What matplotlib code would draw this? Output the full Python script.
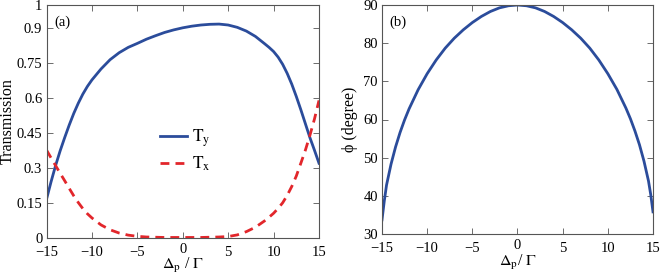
import numpy as np
import matplotlib
matplotlib.use('Agg')
import matplotlib.pyplot as plt

# detuning samples (Delta_p / Gamma) for panel (a)
det = [-15, -14.5, -14, -13.5, -13, -12.5, -12, -11.5, -11, -10.5, -10, -9, -8,
       -7, -6, -5, -4, -3, -2, -1, 0, 1, 2, 3, 4, 5, 6, 7, 8, 9, 9.5, 10, 10.5,
       11, 11.5, 12, 12.5, 13, 13.5, 14, 14.5, 15]
Ty = [0.165, 0.24, 0.31, 0.373, 0.43, 0.484, 0.534, 0.578, 0.617, 0.65, 0.678,
      0.725, 0.765, 0.795, 0.818, 0.835, 0.853, 0.868, 0.882, 0.893, 0.902,
      0.909, 0.914, 0.917, 0.918, 0.914, 0.904, 0.888, 0.865, 0.834, 0.818,
      0.80, 0.776, 0.745, 0.706, 0.66, 0.607, 0.55, 0.49, 0.43, 0.376, 0.32]
Tx = [0.377, 0.343, 0.31, 0.277, 0.245, 0.212, 0.18, 0.151, 0.125, 0.103, 0.085,
      0.055, 0.034, 0.02, 0.011, 0.006, 0.003, 0.002, 0.001, 0.001, 0.001,
      0.001, 0.001, 0.002, 0.003, 0.005, 0.012, 0.026, 0.045, 0.072, 0.088,
      0.105, 0.126, 0.15, 0.182, 0.22, 0.265, 0.32, 0.376, 0.44, 0.51, 0.59]

# panel (b)
det_b = [-15, -14.75, -14.5, -14, -13.5, -13, -12.5, -12, -11, -10, -9, -8, -7,
         -6, -5, -4, -3, -2, -1, 0, 1, 2, 3, 4, 5, 6, 7, 8, 9, 10, 11, 12,
         12.5, 13, 13.5, 14, 14.5, 14.75, 15]
phi = [33.7, 38.6, 42.8, 48.3, 52.8, 56.6, 59.9, 62.8, 67.8, 72.0, 75.6, 78.7,
       81.3, 83.5, 85.4, 87.0, 88.3, 89.25, 89.8, 90.0, 89.8, 89.25, 88.3, 87.0,
       85.4, 83.5, 81.3, 78.7, 75.6, 72.0, 67.9, 63.0, 60.2, 57.0, 53.4, 49.1,
       43.9, 40.3, 35.8]

yt_a = [0, 0.15, 0.3, 0.45, 0.6, 0.75, 0.9, 1]
yt_a_lab = ['0', '0.15', '0.3', '0.45', '0.6', '0.75', '0.9', '1']
xt = [-15, -10, -5, 0, 5, 10, 15]
yt_b = [30, 40, 50, 60, 70, 80, 90]

blue = '#2b4c9b'
red = '#e2262b'

plt.rcParams['font.family'] = ['Liberation Serif', 'DejaVu Serif']
plt.rcParams['mathtext.fontset'] = 'stix'
plt.rcParams['font.size'] = 10.5

fig = plt.figure(figsize=(6.6, 2.78), dpi=100)
W, H = 660.0, 278.0
axA = fig.add_axes([46.5/W, (H-237.7)/H, (319-46.5)/W, (237.7-5)/H])
axB = fig.add_axes([382/W, (H-234)/H, (653-382)/W, (234-5)/H])

def style(ax):
    for s in ax.spines.values():
        s.set_color('#555555')
        s.set_linewidth(0.8)
    ax.tick_params(direction='in', top=True, right=True, length=4,
                   width=0.6, color='#555555', labelsize=10.5)
    ax.tick_params(axis='x', pad=6)
    ax.tick_params(axis='y', pad=3)

axA.plot(det, Ty, color=blue, lw=2.0, label=r'$\mathrm{T_y}$')
axA.plot(det, Tx, color=red, lw=2.0, ls=(0, (3.2, 2.2)), label=r'$\mathrm{T_x}$')
axA.set_xlim(-15, 15)
axA.set_ylim(0, 1)
axA.set_xticks(xt)
axA.set_yticks(yt_a)
axA.set_yticklabels(yt_a_lab)
style(axA)
axA.set_ylabel('Transmission', fontsize=11.5, labelpad=1)
axA.set_xlabel(r'$\Delta_{\mathrm{p}}$ / $\Gamma$', fontsize=11.5, labelpad=-2)
axA.text(0.03, 0.925, '(a)', transform=axA.transAxes, va='center', ha='left')
axA.legend(loc='center', bbox_to_anchor=(0.51, 0.375), frameon=False,
           handlelength=1.5, handletextpad=0.3, labelspacing=0.3, fontsize=12.5)

axB.plot(det_b, phi, color=blue, lw=2.0)
axB.set_xlim(-15, 15)
axB.set_ylim(30, 90)
axB.set_xticks(xt)
axB.set_yticks(yt_b)
style(axB)
axB.set_ylabel('\u03d5 (degree)', fontsize=11.5, labelpad=4)
axB.set_xlabel(r'$\Delta_{\mathrm{p}}$/ $\Gamma$', fontsize=11.5, labelpad=-2)
axB.text(0.026, 0.925, '(b)', transform=axB.transAxes, va='center', ha='left')

# the "0" tick label sits a little higher in the original
for ax in (axA, axB):
    ax.xaxis.get_major_ticks()[3].set_pad(3.5)

fig.savefig('out.png', dpi=100)
